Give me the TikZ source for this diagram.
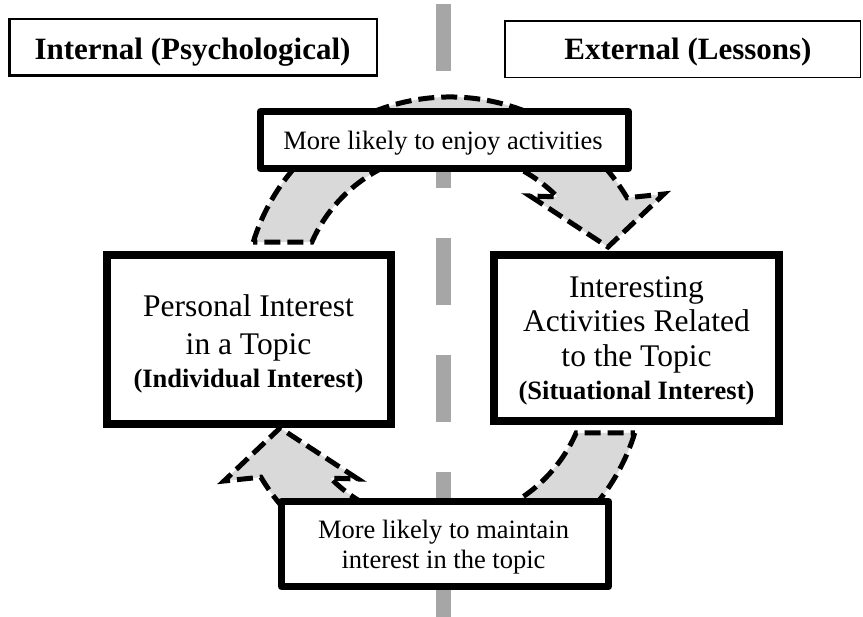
\documentclass[tikz,border=0pt]{standalone}
\usepackage{fontspec}
\setmainfont{Liberation Serif}
\definecolor{bandgray}{HTML}{D9D9D9}
\definecolor{axisgray}{HTML}{A6A6A6}
\begin{document}
\begin{tikzpicture}[x=1pt,y=1pt,
  headbox/.style={draw=black, fill=white, inner sep=0pt},
  headtext/.style={anchor=base, inner sep=0pt, font=\fontsize{31}{37}\selectfont\bfseries},
  mainbox/.style={draw=black, fill=white, line width=8pt, inner sep=0pt},
  labelbox/.style={draw=black, fill=white, line width=7pt, line join=round, inner sep=0pt},
  labeltext/.style={inner sep=0pt, align=center, font=\fontsize{26.5}{30}\selectfont},
  maintext/.style={inner sep=0pt, align=center, font=\fontsize{31.5}{#1}\selectfont},
  subtitle/.style={},
  band/.style={fill=bandgray, draw=black, line width=5pt, dash pattern=on 16pt off 7pt},
  bandarrow/.pic={
    \filldraw[band]
      ([shift={(450,-303)}]162.8:206) arc[start angle=162.8, end angle=30.7, radius=206]
      -- (664,-194) -- (608,-247) -- (530,-196)
      -- ([shift={(450,-303)}]44.7:151) arc[start angle=44.7, end angle=156.2, radius=151]
      -- cycle;
  }]
\useasboundingbox (0,0) rectangle (863,-617);

% dashed dividing axis between the two halves
\coordinate (axtop) at (443,-4);
\coordinate (axbot) at (443,-617);
\draw[axisgray, line width=15pt, dash pattern=on 67pt off 50pt] (axtop) -- (axbot);

% column headings
\node[headbox, line width=2.5pt, minimum width=367.5pt, minimum height=56.5pt] (hint) at (193,-47.5) {};
\node[headtext] (hintT) at (192.5,-60) {Internal (Psychological)};
\node[headbox, line width=1.5pt, minimum width=355.5pt, minimum height=56.5pt] (hext) at (682.5,-49.5) {};
\node[headtext] (hextT) at (688,-60) {External (Lessons)};

% curved block arrows of the cycle
\pic at (0,0) {bandarrow};
\pic[rotate=180] at (888,-675) {bandarrow};

% captions on the arrows
\node[labelbox, minimum width=368pt, minimum height=57pt] (enjoy) at (444.5,-140) {};
\node[labeltext, anchor=base] (enjoyT) at (443,-150) {More likely to enjoy activities};
\node[labelbox, minimum width=327pt, minimum height=85pt] (keep) at (445,-544) {};
\node[labeltext] (keepT) at (443.5,-546.8) {More likely to maintain\\interest in the topic};

% the two kinds of interest
\node[mainbox, minimum width=284pt, minimum height=169pt] (pers) at (249,-339.5) {};
\node[maintext=38] (persT) at (248.5,-344.1)
  {Personal Interest\\in a Topic\\[-5pt]\fontsize{26.5}{38}\selectfont\bfseries (Individual Interest)};
\node[mainbox, minimum width=285pt, minimum height=166pt] (situ) at (636.5,-338) {};
\node[maintext=34.5] (situT) at (636.5,-340.7)
  {Interesting\\Activities Related\\to the Topic\\[-1.5pt]\fontsize{26.5}{34.5}\selectfont\bfseries (Situational Interest)};
\end{tikzpicture}
\end{document}
